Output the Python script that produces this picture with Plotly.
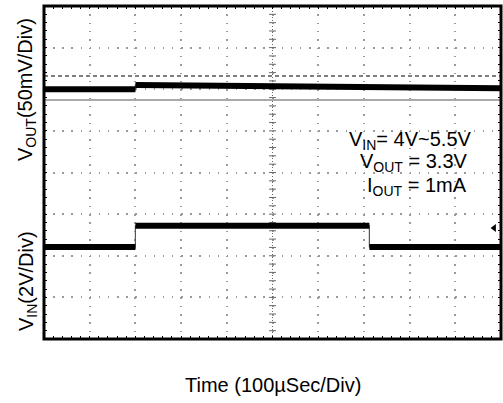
import numpy as np
import plotly.graph_objects as go

# ---- time base / screen ----
time_per_div_us = 100
n_hdiv = 10
n_vdiv = 8

# ---- VOUT channel: deviation from 3.3 V, in mV ----
vout_t_us = [0, 200, 200, 300, 500, 700, 1000]
vout_dev_mv = [0.0, 0.0, 5.0, 4.5, 3.2, 2.2, 1.2]
vout_mv_per_div = 50
vout_pos_div = 2.0

# cursor levels on VOUT (mV)
cursor_hi_mv = 16
cursor_lo_mv = -13

# ---- VIN channel: line step 4 V -> 5.5 V -> 4 V ----
vin_t_us = [0, 200, 200, 712, 712, 1000]
vin_v = [4.0, 4.0, 5.5, 5.5, 4.0, 4.0]
vin_ref_v = 4.0
vin_pos_div = -1.79
vin_div_per_v = 0.509 / 1.5
trig_level_v = 5.35

t_max = time_per_div_us * n_hdiv


def vout_y(mv):
    return vout_pos_div + np.asarray(mv, dtype=float) / vout_mv_per_div


def vin_y(v):
    return vin_pos_div + (np.asarray(v, dtype=float) - vin_ref_v) * vin_div_per_v


def split_at_edges(t, y):
    """Break a stepped path at its vertical edges so the flat parts can be
    drawn heavy while the fast transitions stay thin."""
    xs, ys = [t[0]], [y[0]]
    for i in range(1, len(t)):
        if t[i] == t[i - 1]:
            xs.append(None)
            ys.append(None)
        xs.append(t[i])
        ys.append(y[i])
    return xs, ys


W, H = 503, 403
ML, MR, MT, MB = 44, 2, 6, 64
plot_w = W - ML - MR
plot_h = H - MT - MB
hminor_px = plot_w / n_hdiv / 5
vminor_px = plot_h / n_vdiv / 5

fig = go.Figure()

# centre graticule tick marks
minor_y = np.arange(-n_vdiv / 2, n_vdiv / 2 + 1e-9, 0.2)
fig.add_trace(go.Scatter(
    x=np.full(minor_y.shape, t_max / 2), y=minor_y, mode="markers",
    marker=dict(symbol="line-ew", size=5, line=dict(width=1, color="#6a6a6a")),
    hoverinfo="skip"))

for t, yv in ((vout_t_us, vout_y(vout_dev_mv)), (vin_t_us, vin_y(vin_v))):
    yv = list(yv)
    # fast edges: thin grey
    fig.add_trace(go.Scatter(x=t, y=yv, mode="lines",
                             line=dict(color="#555555", width=1.2),
                             hoverinfo="skip"))
    # settled levels: heavy band
    xs, ys = split_at_edges(t, yv)
    fig.add_trace(go.Scatter(x=xs, y=ys, mode="lines", connectgaps=False,
                             line=dict(color="black", width=6),
                             hoverinfo="skip"))

# trigger level marker at the right edge
fig.add_trace(go.Scatter(
    x=[t_max - 15], y=vin_y([trig_level_v]), mode="markers",
    marker=dict(symbol="triangle-left", size=7, color="black"),
    hoverinfo="skip"))

shapes = [
    dict(type="line", xref="x", yref="paper", x0=t_max / 2, x1=t_max / 2, y0=0, y1=1,
         line=dict(color="#6a6a6a", width=1, dash="1px,2px"), layer="below"),
    dict(type="line", xref="paper", yref="y", x0=0, x1=1,
         y0=float(vout_y(cursor_hi_mv)), y1=float(vout_y(cursor_hi_mv)),
         line=dict(color="#555555", width=1.5, dash="4px,3px")),
    dict(type="line", xref="paper", yref="y", x0=0, x1=1,
         y0=float(vout_y(cursor_lo_mv)), y1=float(vout_y(cursor_lo_mv)),
         line=dict(color="#8c8c8c", width=1.5)),
    dict(type="rect", xref="paper", yref="paper", x0=0, x1=1, y0=0, y1=1,
         line=dict(color="black", width=3)),
]

font = "Liberation Sans, Arial, sans-serif"


def px_to_paper_x(px):
    return (px - ML) / plot_w


def px_to_paper_y(py):
    return 1 - (py - MT) / plot_h


annotations = [
    dict(text="V<sub>OUT</sub>(50mV/Div)", textangle=-90, x=px_to_paper_x(27),
         y=px_to_paper_y(90), xref="paper", yref="paper", showarrow=False,
         xanchor="center", yanchor="middle", font=dict(size=20, color="black")),
    dict(text="V<sub>IN</sub>(2V/Div)", textangle=-90, x=px_to_paper_x(27),
         y=px_to_paper_y(281), xref="paper", yref="paper", showarrow=False,
         xanchor="center", yanchor="middle", font=dict(size=20, color="black")),
    dict(text="Time (100µSec/Div)", x=0.5, y=px_to_paper_y(385), xref="paper",
         yref="paper", showarrow=False, xanchor="center", yanchor="middle",
         font=dict(size=20, color="black")),
    dict(text="V<sub>IN</sub>= 4V~5.5V", x=px_to_paper_x(410), y=px_to_paper_y(140),
         xref="paper", yref="paper", showarrow=False, xanchor="center",
         yanchor="middle", font=dict(size=20, color="black")),
    dict(text="V<sub>OUT</sub> = 3.3V", x=px_to_paper_x(414), y=px_to_paper_y(163),
         xref="paper", yref="paper", showarrow=False, xanchor="center",
         yanchor="middle", font=dict(size=20, color="black")),
    dict(text="I<sub>OUT</sub> = 1mA", x=px_to_paper_x(417), y=px_to_paper_y(186),
         xref="paper", yref="paper", showarrow=False, xanchor="center",
         yanchor="middle", font=dict(size=20, color="black")),
]

axis_common = dict(
    showticklabels=False, zeroline=False, showline=False,
    ticks="inside", ticklen=3, tickwidth=1, tickcolor="black", mirror="allticks",
    gridcolor="#9a9a9a", gridwidth=1.5,
)

fig.update_layout(
    width=W, height=H,
    margin=dict(l=ML, r=MR, t=MT, b=MB, pad=0),
    paper_bgcolor="white", plot_bgcolor="white",
    showlegend=False,
    font=dict(family=font, color="black"),
    shapes=shapes, annotations=annotations,
    xaxis=dict(range=[0, t_max], tick0=0, dtick=time_per_div_us,
               griddash=f"1.5px,{vminor_px - 1.5:.3f}px",
               minor=dict(dtick=time_per_div_us / 5, ticks="inside", ticklen=3,
                          tickcolor="black", showgrid=False),
               **axis_common),
    yaxis=dict(range=[-n_vdiv / 2, n_vdiv / 2], tick0=0, dtick=1,
               griddash=f"1.5px,{hminor_px - 1.5:.3f}px",
               minor=dict(dtick=0.2, ticks="inside", ticklen=3,
                          tickcolor="black", showgrid=False),
               **axis_common),
)

fig.write_html("out.html")
